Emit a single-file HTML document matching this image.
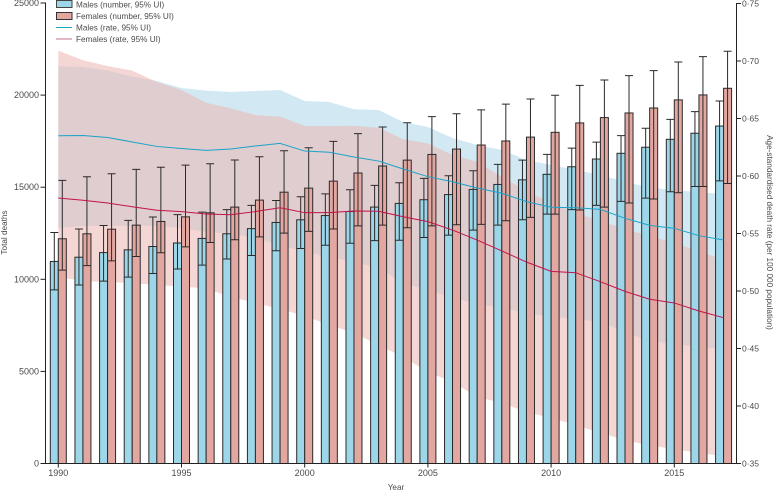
<!DOCTYPE html>
<html lang="en">
<head>
<meta charset="utf-8">
<title>Total deaths and age-standardised death rate</title>
<style>
html,body{margin:0;padding:0;background:#fff;}
body{width:775px;height:490px;overflow:hidden;}
svg{display:block;}
text{font-family:"Liberation Sans",sans-serif;font-size:8.2px;fill:#4a4a4a;}
text.tick{font-size:9px;}
text.tick-right{font-size:8.5px;}
</style>
</head>
<body>
<svg id="chart" xmlns="http://www.w3.org/2000/svg" width="775" height="490" viewBox="0 0 775 490">
  <g id="bands"></g>
  <g id="bars"></g>
  <g id="whiskers"></g>
  <g id="lines"></g>
  <g id="axes"></g>
  <g id="legend">
    <g>
      <rect x="56.5" y="0.5" width="15.5" height="7" fill="#9dd6e8" stroke="#444" stroke-width="1"/>
      <text x="76" y="7.5">Males (number, 95% UI)</text>
    </g>
    <g>
      <rect x="56.5" y="12.5" width="15.5" height="7" fill="#e3a7a1" stroke="#333" stroke-width="1"/>
      <text x="76" y="19">Females (number, 95% UI)</text>
    </g>
    <g>
      <line x1="56" x2="72" y1="27.5" y2="27.5" stroke="#1aa3c9" stroke-width="1"/>
      <text x="76" y="30.3">Males (rate, 95% UI)</text>
    </g>
    <g>
      <line x1="56" x2="72" y1="39" y2="39" stroke="#d28a9b" stroke-width="1.2"/>
      <text x="76" y="42">Females (rate, 95% UI)</text>
    </g>
  </g>
  <text transform="translate(7,232.5) rotate(-90)" text-anchor="middle">Total deaths</text>
  <text transform="translate(767,232.5) rotate(90)" text-anchor="middle">Age-standardised death rate (per 100 000 population)</text>
  <text x="396" y="490" text-anchor="middle">Year</text>
</svg>
<script>
const years = [1990,1991,1992,1993,1994,1995,1996,1997,1998,1999,2000,2001,2002,2003,2004,2005,2006,2007,2008,2009,2010,2011,2012,2013,2014,2015,2016,2017];

const maleNumber = [10970,11200,11450,11600,11780,11970,12220,12470,12750,13085,13230,13460,13680,13920,14120,14320,14600,14880,15150,15400,15700,16110,16530,16840,17170,17600,17930,18320];
const maleNumberLower = [9425,9690,9900,10120,10315,10560,10770,11100,11290,11550,11670,11850,11960,12100,12120,12270,12400,12670,12940,13230,13540,13780,14010,14230,14410,14750,15040,15340];
const maleNumberUpper = [12540,12730,12920,13200,13380,13510,13650,13780,14010,14280,14480,14640,14860,15100,15240,15480,15620,15890,16240,16470,16780,17120,17450,17800,18200,18680,19100,19680];

const femaleNumber = [12200,12470,12720,12940,13140,13390,13610,13920,14300,14730,14950,15330,15770,16150,16470,16780,17070,17290,17510,17720,17980,18490,18780,19030,19300,19740,20010,20370];
const femaleNumberLower = [10500,10740,11000,11240,11440,11760,12000,12150,12300,12510,12600,12730,12900,12940,12800,12900,12960,12980,13180,13360,13540,13760,13920,14140,14360,14700,15040,15200];
const femaleNumberUpper = [15370,15570,15730,15970,16080,16200,16270,16480,16650,16980,17140,17490,17910,18270,18500,18830,18990,19200,19510,19790,19990,20530,20820,21060,21330,21800,22090,22380];

const maleRate = [0.6350,0.6352,0.6335,0.6296,0.6257,0.6239,0.6223,0.6235,0.6261,0.6284,0.6217,0.6206,0.6165,0.6130,0.6061,0.5994,0.5950,0.5896,0.5850,0.5777,0.5728,0.5724,0.5710,0.5632,0.5571,0.5545,0.5481,0.5443];
const maleRateLower = [0.5548,0.5565,0.5565,0.5568,0.5565,0.5548,0.5513,0.5496,0.5461,0.5400,0.5339,0.5296,0.5252,0.5200,0.5070,0.5009,0.4939,0.4887,0.4852,0.4809,0.4774,0.4757,0.4730,0.4643,0.4565,0.4539,0.4513,0.4496];
const maleRateUpper = [0.6954,0.6948,0.6917,0.6865,0.6826,0.6765,0.6742,0.6730,0.6739,0.6748,0.6652,0.6643,0.6580,0.6574,0.6470,0.6426,0.6330,0.6270,0.6226,0.6139,0.6096,0.6052,0.6009,0.5950,0.5898,0.5878,0.5858,0.5843];

const femaleRate = [0.5809,0.5789,0.5765,0.5733,0.5702,0.5690,0.5670,0.5663,0.5691,0.5724,0.5681,0.5681,0.5696,0.5693,0.5646,0.5603,0.5530,0.5443,0.5348,0.5252,0.5171,0.5159,0.5081,0.4997,0.4928,0.4896,0.4826,0.4768];
const femaleRateLower = [0.5122,0.5087,0.5078,0.5070,0.5052,0.5039,0.5022,0.4948,0.4896,0.4843,0.4783,0.4704,0.4635,0.4530,0.4426,0.4296,0.4209,0.4078,0.4026,0.3948,0.3896,0.3835,0.3765,0.3704,0.3657,0.3626,0.3591,0.3565];
const femaleRateUpper = [0.7090,0.7006,0.6957,0.6916,0.6817,0.6748,0.6637,0.6589,0.6530,0.6516,0.6435,0.6435,0.6437,0.6420,0.6319,0.6284,0.6183,0.6124,0.5994,0.5870,0.5765,0.5678,0.5609,0.5539,0.5478,0.5417,0.5348,0.5270];

const leftTicks = [0,5000,10000,15000,20000,25000];
const leftTickLabels = ["0","5000","10000","15000","20000","25000"];
const rightTicks = [0.35,0.40,0.45,0.50,0.55,0.60,0.65,0.70,0.75];
const rightTickLabels = ["0·35","0·40","0·45","0·50","0·55","0·60","0·65","0·70","0·75"];
const yearTicks = [1990,1995,2000,2005,2010,2015];

const SVG_NS = "http://www.w3.org/2000/svg";
const AXIS_BOTTOM = 463.5;
const xScale = function (year) { return 58.3 + (year - 1990) * 24.64; };
const yLeft = function (v) { return AXIS_BOTTOM - (v / 25000) * 460.5; };
const yRight = function (v) { return AXIS_BOTTOM - ((v - 0.35) / 0.40) * 460; };

function make(parent, tag, props) {
  const el = document.createElementNS(SVG_NS, tag);
  Object.keys(props).forEach(function (k) { el.setAttribute(k, props[k]); });
  parent.appendChild(el);
  return el;
}
function bandPoints(upper, lower) {
  const top = years.map(function (yr, i) { return xScale(yr).toFixed(2) + "," + yRight(upper[i]).toFixed(2); });
  const bottom = years.map(function (yr, i) { return xScale(yr).toFixed(2) + "," + yRight(lower[i]).toFixed(2); }).reverse();
  return top.concat(bottom).join(" ");
}
function linePoints(values) {
  return years.map(function (yr, i) { return xScale(yr).toFixed(2) + "," + yRight(values[i]).toFixed(2); }).join(" ");
}

const bandsG = document.getElementById("bands");
const barsG = document.getElementById("bars");
const whiskersG = document.getElementById("whiskers");
const linesG = document.getElementById("lines");
const axesG = document.getElementById("axes");

const maleBand = make(bandsG, "polygon", { points: bandPoints(maleRateUpper, maleRateLower), fill: "#d2e9f3" });


const femaleBand = make(bandsG, "polygon", { points: bandPoints(femaleRateUpper, femaleRateLower), fill: "rgb(235,182,177)", "fill-opacity": "0.55" });



const BAR_W = 8;
years.forEach(function (yr, i) {
  const cx = xScale(yr);
  const maleTop = yLeft(maleNumber[i]);
  const femaleTop = yLeft(femaleNumber[i]);

  const mBar = make(barsG, "rect", { x: cx - BAR_W, y: maleTop, width: BAR_W, height: AXIS_BOTTOM - maleTop, fill: "#9dd6e8", stroke: "#2a2a2a", "stroke-width": 1 });
  
  

  const fBar = make(barsG, "rect", { x: cx, y: femaleTop, width: BAR_W, height: AXIS_BOTTOM - femaleTop, fill: "#e3a7a1", stroke: "#2a2a2a", "stroke-width": 1 });
  
  

  const mPath = make(whiskersG, "path", {
    d: "M" + (cx - BAR_W / 2) + " " + yLeft(maleNumberUpper[i]) + "V" + yLeft(maleNumberLower[i]) +
       "M" + (cx - BAR_W) + " " + yLeft(maleNumberUpper[i]) + "h" + BAR_W +
       "M" + (cx - BAR_W) + " " + yLeft(maleNumberLower[i]) + "h" + BAR_W,
    fill: "none", stroke: "#2a2a2a", "stroke-width": 1
  });
  
  

  const fPath = make(whiskersG, "path", {
    d: "M" + (cx + BAR_W / 2) + " " + yLeft(femaleNumberUpper[i]) + "V" + yLeft(femaleNumberLower[i]) +
       "M" + cx + " " + yLeft(femaleNumberUpper[i]) + "h" + BAR_W +
       "M" + cx + " " + yLeft(femaleNumberLower[i]) + "h" + BAR_W,
    fill: "none", stroke: "#2a2a2a", "stroke-width": 1
  });
  
  
});

const maleLine = make(linesG, "polyline", { points: linePoints(maleRate), fill: "none", stroke: "#1aa3c9", "stroke-width": 1 });


const femaleLine = make(linesG, "polyline", { points: linePoints(femaleRate), fill: "none", stroke: "#c2134a", "stroke-width": 1 });



const AX = { stroke: "#222", "stroke-width": 1 };
const leftAxis = make(axesG, "line", Object.assign({ x1: 45.5, x2: 45.5, y1: 2.5, y2: AXIS_BOTTOM + 0.5 }, AX));


const rightAxis = make(axesG, "line", Object.assign({ x1: 736.5, x2: 736.5, y1: 3, y2: AXIS_BOTTOM + 0.5 }, AX));


const xAxis = make(axesG, "line", Object.assign({ x1: 41, x2: 741, y1: AXIS_BOTTOM, y2: AXIS_BOTTOM }, AX));



leftTicks.forEach(function (v, i) {
  const y = yLeft(v);
  const tick = make(axesG, "line", Object.assign({ x1: 40.5, x2: 45.5, y1: y, y2: y }, AX));
  
  
  const label = make(axesG, "text", { x: 39, y: y + 3, "text-anchor": "end", "class": "tick" });
  label.textContent = leftTickLabels[i];
  
  
});
rightTicks.forEach(function (v, i) {
  const y = yRight(v);
  const tick = make(axesG, "line", Object.assign({ x1: 736.5, x2: 741, y1: y, y2: y }, AX));
  
  
  const label = make(axesG, "text", { x: 742, y: y + 3, "class": "tick-right" });
  label.textContent = rightTickLabels[i];
  
  
});
yearTicks.forEach(function (yr) {
  const x = xScale(yr);
  const tick = make(axesG, "line", Object.assign({ x1: x, x2: x, y1: AXIS_BOTTOM, y2: AXIS_BOTTOM + 4 }, AX));
  
  
  const label = make(axesG, "text", { x: x, y: 476, "text-anchor": "middle", "class": "tick" });
  label.textContent = String(yr);
  
  
});
</script>
</body>
</html>
